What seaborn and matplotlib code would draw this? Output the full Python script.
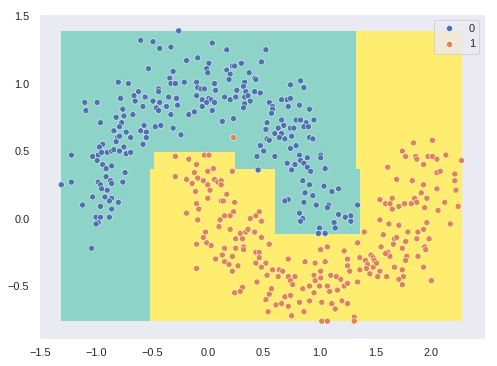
import numpy as np
import pandas as pd
import matplotlib
matplotlib.use("Agg")
import matplotlib.pyplot as plt
from matplotlib.colors import ListedColormap
import seaborn as sns

# class 0 points (blue)
x0 = [-0.26, -0.60, -0.49, -0.43, -0.33, -0.19, -0.53, -0.31, -0.34, -0.80,
      -0.71, -0.33, -0.29, -0.21, -0.62, -0.44, -0.44, -0.66, -0.78, -0.56,
      -0.65, -0.49, -0.43, -0.35, -0.28, -1.10, -0.99, -1.09, -0.76, -0.58,
      -0.46, -0.44, -0.37, -0.27, -0.82, -0.75, -0.67, -0.33, -0.17, -0.12,
      -0.96, -0.77, -0.79, -0.57, -0.47, -0.42, -0.31, -0.84, -0.73, -0.60,
      -0.55, -0.81, -0.82, -0.69, -0.79, -0.55, -0.24, -0.94, -0.97, -0.58,
      -0.75, -1.22, -1.03, -0.98, -0.95, -0.90, -0.86, -0.84, -0.79, -0.73,
      -0.69, -0.99, -0.94,
      0.04, 0.17, 0.52, -0.09, 0.01, -0.01, 0.00, 0.17, 0.22, 0.24,
      0.30, 0.48, 0.37, 0.20, 0.19, 0.42, 0.43, -0.10, -0.09, -0.06,
      -0.03, 0.06, 0.07, 0.33, 0.32, -0.10, -0.05, 0.01, 0.03, 0.06,
      -0.01, -0.05, 0.04, 0.15, 0.20, 0.25, 0.26, 0.34, 0.33, 0.36,
      0.38, 0.33, 0.32, 0.42, 0.47, 0.55, 0.58, 0.58, 0.57, 0.66,
      0.71, 0.74, 0.72, 0.74, 0.83, 0.86, 0.82, 0.91, 0.13, 0.23,
      0.53, 0.52, 0.63, 0.66, 0.68, 0.74, 0.77, 0.79, 0.83, 0.88,
      0.95, 0.86, 0.90, 0.60, 0.66, 0.64, 0.69, 0.75, 0.53, 0.55,
      0.91, 0.94, 0.47, 0.50, 0.44, 0.60, 0.74, 0.79, 0.82, 0.89,
      1.01, 1.01, 0.71, 0.83, 0.86,
      -0.86, -0.91, -0.74, -0.91, -0.87, -0.86, -0.76, -0.98, -0.96, -0.95,
      -0.90, -1.22, -1.31, -1.03, -0.92, -0.86, -0.88, -0.80, -1.12, -0.96,
      -0.86, -1.00, -0.96, -0.88, -0.98, -1.00, -1.04,
      0.45, 0.75, 0.78, 0.89, 0.92, 1.05, 0.85, 0.91, 1.04, 1.11,
      1.17, 0.87, 0.94, 0.72, 0.69, 0.86, 0.97, 1.08, 1.07, 0.82,
      0.85, 0.83, 1.17, 1.13, 1.00, 1.14, 0.99, 1.05,
      1.34, 1.28, 1.23, 1.28]
y0 = [1.39, 1.32, 1.31, 1.26, 1.27, 1.17, 1.11, 1.09, 1.04, 1.01,
      1.00, 1.00, 1.00, 1.01, 0.94, 0.96, 0.94, 0.91, 0.89, 0.90,
      0.87, 0.87, 0.86, 0.90, 0.89, 0.86, 0.86, 0.80, 0.81, 0.83,
      0.82, 0.80, 0.83, 0.84, 0.75, 0.76, 0.77, 0.77, 0.77, 0.79,
      0.71, 0.71, 0.68, 0.69, 0.68, 0.69, 0.67, 0.65, 0.64, 0.65,
      0.64, 0.60, 0.57, 0.60, 0.61, 0.60, 0.62, 0.55, 0.53, 0.55,
      0.53, 0.47, 0.46, 0.47, 0.49, 0.49, 0.50, 0.51, 0.50, 0.48,
      0.49, 0.43, 0.40,
      1.30, 1.25, 1.25, 1.19, 1.15, 1.11, 1.08, 1.10, 1.13, 1.13,
      1.15, 1.16, 1.08, 1.07, 1.03, 1.04, 1.03, 1.01, 0.97, 0.96,
      0.96, 1.00, 0.95, 1.01, 0.98, 0.91, 0.88, 0.89, 0.88, 0.86,
      0.86, 0.83, 0.80, 0.90, 0.88, 0.90, 0.95, 0.94, 0.90, 0.91,
      0.87, 0.85, 0.82, 0.94, 0.93, 0.86, 0.83, 0.81, 0.78, 0.88,
      0.88, 0.89, 0.83, 0.99, 1.02, 0.97, 0.84, 0.81, 0.72, 0.74,
      0.71, 0.66, 0.67, 0.73, 0.69, 0.67, 0.67, 0.73, 0.73, 0.71,
      0.73, 0.68, 0.68, 0.63, 0.63, 0.60, 0.59, 0.61, 0.59, 0.58,
      0.60, 0.59, 0.54, 0.50, 0.46, 0.46, 0.52, 0.54, 0.47, 0.45,
      0.47, 0.45, 0.41, 0.43, 0.41,
      0.39, 0.37, 0.34, 0.31, 0.28, 0.26, 0.27, 0.27, 0.25, 0.22,
      0.21, 0.27, 0.25, 0.16, 0.16, 0.15, 0.13, 0.12, 0.10, 0.09,
      0.07, 0.01, 0.01, 0.01, -0.03, -0.04, -0.22,
      0.36, 0.36, 0.40, 0.38, 0.35, 0.37, 0.28, 0.25, 0.24, 0.20,
      0.22, 0.19, 0.17, 0.14, 0.13, 0.12, 0.10, 0.10, 0.08, 0.04,
      0.00, -0.02, 0.03, -0.03, -0.07, -0.07, -0.11, -0.11,
      0.10, 0.02, 0.01, -0.02]

# class 1 points (orange)
x1 = [-0.29, -0.17, 0.23, -0.03, 0.01, 1.84, 2.01, 1.74, 1.77, 1.86,
      1.87, 1.97, 2.01, 2.05, 2.13, 2.27, -0.29, -0.19, -0.14, -0.12, -0.19,
      -0.10, 0.00, 0.05, 0.22, -0.09, -0.04, 0.00, 0.06, 0.09, 0.12,
      0.12, 0.02, -0.11, 0.17, 0.00, 0.12, 0.14, -0.10, 0.24, -0.08,
      0.23, 0.20, 0.15, 0.11, 0.10, -0.09, 0.46, 0.43, 0.38, 0.48,
      -0.02, -0.04, -0.10, -0.01, 0.03, 0.20, 0.29, 0.34, 0.36, 0.42,
      0.31, 0.25, 0.48, 0.55, 0.15, 0.25, 0.32, 0.32, 0.07, 0.13,
      0.15, 0.19, 0.22, 0.27, 0.22, -0.10, 0.43, 0.46, 0.46, 0.43,
      0.48, 0.52, 0.58, 0.64, 0.72, 0.53, 0.63, 0.67, 0.72, 0.74,
      0.78, 0.76, 0.44, 0.31, 0.29, 0.24, 0.57, 0.55, 0.52, 0.69,
      0.74, 0.61, 0.66, 0.72, 0.54, 0.75, 0.86, 0.82, 0.91, 0.95,
      1.02, 1.11, 1.14, 1.20, 0.85, 0.91, 0.87, 0.96, 1.05, 1.01,
      1.01, 0.95, 0.96, 1.00, 1.07, 1.09, 1.16, 1.10, 1.15, 1.19,
      1.22, 1.01, 1.07, 1.22, 1.02, 1.07,
      1.61, 1.93, 2.05, 2.08, 2.21, 2.21, 2.22, 1.69, 1.83, 1.93,
      1.91, 2.05, 1.54, 1.59, 1.63, 1.65, 1.65, 1.71, 1.76, 1.82,
      1.85, 1.87, 1.96, 1.94, 2.12, 2.24, 2.06, 1.54, 1.62, 1.71,
      1.96, 2.17, 1.40, 1.57, 1.67, 1.69, 1.77, 1.79, 1.88, 1.87,
      1.93, 1.98, 1.34, 1.66, 1.55, 1.61, 1.63, 1.59, 1.74, 1.78,
      1.77, 1.94, 1.95, 1.88, 1.93, 1.25, 1.36, 1.41, 1.46, 1.48,
      1.49, 1.43, 1.42, 1.48, 1.51, 1.36, 1.27, 1.25, 1.45, 1.54,
      1.52, 1.60, 1.67, 1.74, 1.75, 1.71, 1.74, 2.00, 1.25, 1.34,
      1.25, 1.31, 1.31]
y1 = [0.46, 0.44, 0.60, 0.47, 0.47, 0.56, 0.58, 0.50, 0.46, 0.46,
      0.44, 0.46, 0.46, 0.44, 0.47, 0.43, 0.31, 0.29, 0.26, 0.34, 0.04,
      0.40, 0.35, 0.37, 0.35, 0.30, 0.28, 0.25, 0.29, 0.27, 0.28,
      0.25, 0.21, 0.20, 0.18, 0.15, 0.13, 0.13, 0.11, 0.12, 0.07,
      0.05, 0.02, 0.02, -0.01, -0.06, -0.01, 0.05, 0.02, 0.00, -0.02,
      -0.10, -0.14, -0.19, -0.18, -0.20, -0.08, -0.11, -0.10, -0.08, -0.10,
      -0.15, -0.15, -0.14, -0.19, -0.22, -0.22, -0.21, -0.23, -0.30, -0.27,
      -0.32, -0.34, -0.28, -0.35, -0.39, -0.37, -0.25, -0.25, -0.29, -0.33,
      -0.36, -0.33, -0.38, -0.38, -0.30, -0.42, -0.43, -0.39, -0.43, -0.46,
      -0.43, -0.49, -0.47, -0.51, -0.54, -0.55, -0.52, -0.56, -0.60, -0.58,
      -0.57, -0.64, -0.63, -0.65, -0.69, -0.72, -0.69, -0.62, -0.61, -0.55,
      -0.62, -0.63, -0.67, -0.61, -0.52, -0.50, -0.32, -0.33, -0.32, -0.39,
      -0.44, -0.42, -0.46, -0.50, -0.50, -0.54, -0.53, -0.42, -0.43, -0.45,
      -0.50, -0.23, -0.21, -0.24, -0.76, -0.76,
      0.38, 0.40, 0.34, 0.35, 0.33, 0.28, 0.21, 0.29, 0.28, 0.25,
      0.19, 0.22, 0.14, 0.11, 0.11, 0.15, 0.07, 0.09, 0.11, 0.11,
      0.15, 0.12, 0.15, 0.08, 0.12, 0.09, 0.06, -0.01, -0.04, -0.05,
      -0.03, -0.04, -0.10, -0.12, -0.15, -0.14, -0.17, -0.10, -0.10, -0.15,
      -0.08, -0.15, -0.18, -0.19, -0.21, -0.25, -0.28, -0.26, -0.22, -0.28,
      -0.31, -0.21, -0.23, -0.28, -0.36, -0.30, -0.29, -0.31, -0.27, -0.29,
      -0.31, -0.34, -0.37, -0.36, -0.33, -0.38, -0.39, -0.35, -0.41, -0.39,
      -0.43, -0.43, -0.36, -0.38, -0.43, -0.45, -0.49, -0.46, -0.48, -0.47,
      -0.63, -0.73, -0.76]

# decision regions (tree splits), rows go bottom -> top
split_x = [-0.515, -0.48, 0.245, 0.605, 1.33, 1.365]
split_y = [-0.115, 0.365, 0.495]
region_class = [
    [0, 1, 1, 1, 1, 1, 1],
    [0, 1, 1, 1, 0, 0, 1],
    [0, 0, 1, 0, 0, 1, 1],
    [0, 0, 0, 0, 0, 1, 1],
]

df = pd.DataFrame({
    "x": x0 + x1,
    "y": y0 + y1,
    "label": ["0"] * len(x0) + ["1"] * len(x1),
})

sns.set_theme(style="dark")
plt.rcParams["font.family"] = ["Liberation Sans", "DejaVu Sans"]

fig = plt.figure(figsize=(497 / 72, 366 / 72), dpi=72)
ax = fig.add_axes([39 / 497, 1 - 338.7 / 366, 446 / 497, 324.7 / 366])

x_edges = [df["x"].min()] + split_x + [df["x"].max()]
y_edges = [df["y"].min()] + split_y + [df["y"].max()]
ax.pcolormesh(x_edges, y_edges, np.array(region_class),
              cmap=ListedColormap(["#8dd3c7", "#ffed6f"]), vmin=0, vmax=1)

sns.scatterplot(data=df, x="x", y="y", hue="label", hue_order=["0", "1"],
                palette=["#4c72b0", "#dd8452"], ax=ax)
ax.legend(loc="upper right")
ax.set_xlabel("")
ax.set_ylabel("")
ax.set_xlim(-1.51, 2.48)
ax.set_ylim(-0.89, 1.515)

fig.savefig("out.png", dpi=72)
